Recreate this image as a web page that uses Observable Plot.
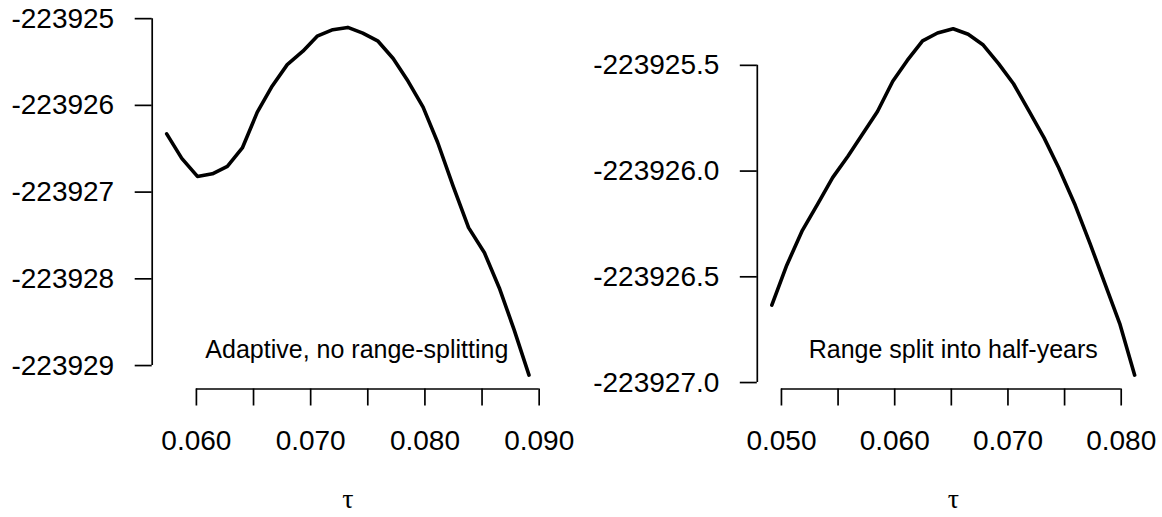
<!DOCTYPE html>
<html>
<head>
<meta charset="utf-8">
<script src="https://cdn.jsdelivr.net/npm/d3@7"></script>
<script src="https://cdn.jsdelivr.net/npm/@observablehq/plot@0.6"></script>
<style>
  html, body { margin: 0; padding: 0; background: #fff; }
  #wrap { display: flex; width: 1162px; height: 517px; }
</style>
</head>
<body>
<div id="wrap"></div>
<script>
// ---- Left panel data: "Adaptive, no range-splitting"
const tauLeft = [0.05740, 0.05872, 0.06009, 0.06140, 0.06271, 0.06402, 0.06533, 0.06664, 0.06795,
  0.06932, 0.07057, 0.07194, 0.07325, 0.07456, 0.07590, 0.07722, 0.07853, 0.07984, 0.08111,
  0.08246, 0.08382, 0.08521, 0.08651, 0.08781, 0.08911];
const llLeft = [-223926.329, -223926.611, -223926.819, -223926.789, -223926.703, -223926.491,
  -223926.078, -223925.776, -223925.530, -223925.375, -223925.202, -223925.127, -223925.101,
  -223925.167, -223925.260, -223925.460, -223925.723, -223926.020, -223926.425, -223926.928,
  -223927.410, -223927.700, -223928.105, -223928.589, -223929.110];
const yTicksLeft = [-223925, -223926, -223927, -223928, -223929];
const yTickLabelsLeft = ["-223925", "-223926", "-223927", "-223928", "-223929"];
const xTicksLeft = [0.060, 0.065, 0.070, 0.075, 0.080, 0.085, 0.090];
const xTickLabelsLeft = ["0.060", "", "0.070", "", "0.080", "", "0.090"];
const noteLeft = "Adaptive, no range-splitting";

// ---- Right panel data: "Range split into half-years"
const tauRight = [0.04915, 0.05047, 0.05185, 0.05322, 0.05452, 0.05587, 0.05715, 0.05848, 0.05983,
  0.06111, 0.06246, 0.06378, 0.06516, 0.06649, 0.06782, 0.06917, 0.07049, 0.07184, 0.07318,
  0.07448, 0.07594, 0.07725, 0.07856, 0.07987, 0.08119];
const llRight = [-223926.634, -223926.445, -223926.280, -223926.154, -223926.031, -223925.930,
  -223925.826, -223925.718, -223925.575, -223925.477, -223925.384, -223925.347, -223925.327,
  -223925.353, -223925.404, -223925.492, -223925.587, -223925.714, -223925.842, -223925.984,
  -223926.162, -223926.343, -223926.532, -223926.721, -223926.965];
const yTicksRight = [-223925.5, -223926.0, -223926.5, -223927.0];
const yTickLabelsRight = ["-223925.5", "-223926.0", "-223926.5", "-223927.0"];
const xTicksRight = [0.050, 0.055, 0.060, 0.065, 0.070, 0.075, 0.080];
const xTickLabelsRight = ["0.050", "", "0.060", "", "0.070", "", "0.080"];
const noteRight = "Range split into half-years";

const xLabel = "τ";

function ext(arr) {
  const [a, b] = d3.extent(arr);
  const r = b - a;
  return [a - 0.04 * r, b + 0.04 * r];
}
function lookup(ticks, labels) {
  return d => {
    const i = ticks.findIndex(t => Math.abs(t - d) < 1e-9);
    return i >= 0 ? labels[i] : "";
  };
}

function panel(cfg) {
  const data = cfg.xs.map((x, i) => ({x, y: cfg.ys[i]}));
  const xDom = ext(cfg.xs), yDom = ext(cfg.ys);
  const yt = cfg.yTicks, xt = cfg.xTicks;
  return Plot.plot({
    width: 581,
    height: 517,
    marginLeft: cfg.ml,
    marginRight: cfg.mr,
    marginTop: cfg.mt,
    marginBottom: 128.5,
    style: {fontFamily: "'Liberation Sans', Arial, Helvetica, sans-serif", fontSize: "28px", color: "#000", background: "#fff"},
    x: {domain: xDom, round: false},
    y: {domain: yDom, round: false},
    marks: [
      Plot.axisY(yt, {tickSize: 17, tickPadding: 21, tickFormat: lookup(yt, cfg.yLabels), strokeWidth: 1.7, label: null, fill: "#000"}),
      Plot.axisX(xt, {tickSize: 17, tickPadding: 24, tickFormat: lookup(xt, cfg.xLabels), strokeWidth: 1.7, label: null, fill: "#000"}),
      Plot.ruleX([xDom[0]], {y1: yt[0], y2: yt[yt.length - 1], strokeWidth: 1.7, stroke: "#000"}),
      Plot.ruleY([yDom[0]], {x1: xt[0], x2: xt[xt.length - 1], strokeWidth: 1.7, stroke: "#000"}),
      Plot.line(data, {x: "x", y: "y", stroke: "#000", strokeWidth: 3.6, strokeLinejoin: "round"}),
      Plot.text([cfg.note], {frameAnchor: "bottom", dx: cfg.noteDx, dy: -31.5, fontSize: 25, fill: "#000"}),
      Plot.text([xLabel], {frameAnchor: "bottom", dy: 119, fontSize: 28, fontFamily: "'Liberation Serif', 'DejaVu Serif', serif", fill: "#000"})
    ]
  });
}

const wrap = document.getElementById("wrap");
wrap.appendChild(panel({xs: tauLeft, ys: llLeft, yTicks: yTicksLeft, yLabels: yTickLabelsLeft,
  xTicks: xTicksLeft, xLabels: xTickLabelsLeft, note: noteLeft, noteDx: 9, ml: 151.7, mr: 38, mt: 13}));
wrap.appendChild(panel({xs: tauRight, ys: llRight, yTicks: yTicksRight, yLabels: yTickLabelsRight,
  xTicks: xTicksRight, xLabels: xTickLabelsRight, note: noteRight, noteDx: 0, ml: 175.8, mr: 13.3, mt: 14.4}));
</script>
</body>
</html>
